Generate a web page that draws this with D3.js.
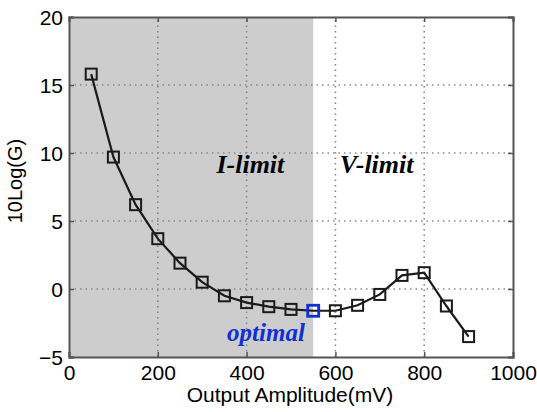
<!DOCTYPE html>
<html>
<head>
<meta charset="utf-8">
<script src="https://cdn.jsdelivr.net/npm/d3@7"></script>
<style>
  body { margin: 0; background: #fff; }
  .tick text { font-family: "Liberation Sans", Arial, sans-serif; font-size: 21px; fill: #000; }
</style>
</head>
<body>
<div id="chart"></div>
<script>
"use strict";

// data
const amplitude = [50, 100, 150, 200, 250, 300, 350, 400, 450, 500, 550, 600, 650, 700, 750, 800, 850, 900];
const gain = [15.8, 9.7, 6.2, 3.7, 1.9, 0.5, -0.5, -1.0, -1.3, -1.5, -1.6, -1.6, -1.2, -0.4, 1.0, 1.2, -1.25, -3.5];
const xTicks = [0, 200, 400, 600, 800, 1000];
const yTicks = [-5, 0, 5, 10, 15, 20];
const optimalX = 550;
const regionLabels = [
  { text: "I-limit", x: 332, y: 8.5 },
  { text: "V-limit", x: 610, y: 8.5 }
];

const width = 537,
  height = 412;
const margin = { top: 17, right: 24, bottom: 55, left: 69 };

const svg = d3
  .select("#chart")
  .append("svg")
  .attr("width", width)
  .attr("height", height);

const x = d3.scaleLinear().domain([0, 1000]).range([margin.left, width - margin.right]);
const y = d3.scaleLinear().domain([-5, 20]).range([height - margin.bottom, margin.top]);

// shaded current-limited region
svg
  .append("rect")
  .attr("x", x(0))
  .attr("y", y(20))
  .attr("width", x(optimalX) - x(0))
  .attr("height", y(-5) - y(20))
  .attr("fill", "#cdcdcd");

// dotted grid
const grid = svg.append("g").attr("stroke", "#888").attr("stroke-width", 1.6).attr("stroke-dasharray", "1.5,4");
grid
  .selectAll("line.v")
  .data(xTicks.slice(1, -1))
  .join("line")
  .attr("x1", (d) => x(d))
  .attr("x2", (d) => x(d))
  .attr("y1", y(-5))
  .attr("y2", y(20));
grid
  .selectAll("line.h")
  .data(yTicks.slice(1, -1))
  .join("line")
  .attr("x1", x(0))
  .attr("x2", x(1000))
  .attr("y1", (d) => y(d))
  .attr("y2", (d) => y(d));

// axes with inward ticks
const xAxis = svg
  .append("g")
  .attr("transform", `translate(0,${y(-5)})`)
  .call(d3.axisBottom(x).tickValues(xTicks).tickSize(-5).tickPadding(8).tickFormat(d3.format("d")));
const yAxis = svg
  .append("g")
  .attr("transform", `translate(${x(0)},0)`)
  .call(d3.axisLeft(y).tickValues(yTicks).tickSize(-5).tickPadding(6));
const xTop = svg
  .append("g")
  .attr("transform", `translate(0,${y(20)})`)
  .call(d3.axisTop(x).tickValues(xTicks).tickSize(-5).tickFormat(""));
const yRight = svg
  .append("g")
  .attr("transform", `translate(${x(1000)},0)`)
  .call(d3.axisRight(y).tickValues(yTicks).tickSize(-5).tickFormat(""));

[xAxis, yAxis, xTop, yRight].forEach((a) => {
  a.select(".domain").attr("stroke", "#555").attr("stroke-width", 2);
  a.selectAll(".tick line").attr("stroke", "#555").attr("stroke-width", 1.5);
});
yAxis.selectAll(".tick text").attr("dy", "0.36em");

// data line
svg
  .append("path")
  .datum(amplitude.map((a, i) => [a, gain[i]]))
  .attr("fill", "none")
  .attr("stroke", "#1a1a1a")
  .attr("stroke-width", 2.2)
  .attr("d", d3.line().x((d) => x(d[0])).y((d) => y(d[1])));

// square markers
const s = 11;
svg
  .selectAll("rect.mark")
  .data(amplitude.map((a, i) => [a, gain[i]]))
  .join("rect")
  .attr("class", "mark")
  .attr("x", (d) => x(d[0]) - s / 2)
  .attr("y", (d) => y(d[1]) - s / 2)
  .attr("width", s)
  .attr("height", s)
  .attr("fill", "none")
  .attr("stroke", (d) => (d[0] === optimalX ? "#1030d0" : "#1a1a1a"))
  .attr("stroke-width", (d) => (d[0] === optimalX ? 2.8 : 2));

// region labels
svg
  .selectAll("text.region")
  .data(regionLabels)
  .join("text")
  .attr("class", "region")
  .attr("x", (d) => x(d.x))
  .attr("y", (d) => y(d.y))
  .style("font-family", "'Liberation Serif', 'Times New Roman', serif")
  .style("font-weight", "bold")
  .style("font-style", "italic")
  .style("font-size", "26px")
  .text((d) => d.text);

svg
  .append("text")
  .attr("x", 266)
  .attr("y", 341)
  .attr("text-anchor", "middle")
  .attr("fill", "#1030d0")
  .style("font-family", "'Liberation Serif', 'Times New Roman', serif")
  .style("font-weight", "bold")
  .style("font-style", "italic")
  .style("font-size", "25px")
  .text("optimal");

// axis titles
svg
  .append("text")
  .attr("x", 290)
  .attr("y", 402)
  .attr("text-anchor", "middle")
  .style("font-family", "'Liberation Sans', Arial, sans-serif")
  .style("font-size", "21px")
  .text("Output Amplitude(mV)");

svg
  .append("text")
  .attr("transform", "translate(22,181) rotate(-90)")
  .attr("text-anchor", "middle")
  .style("font-family", "'Liberation Sans', Arial, sans-serif")
  .style("font-size", "20px")
  .text("10Log(G)");
</script>
</body>
</html>
